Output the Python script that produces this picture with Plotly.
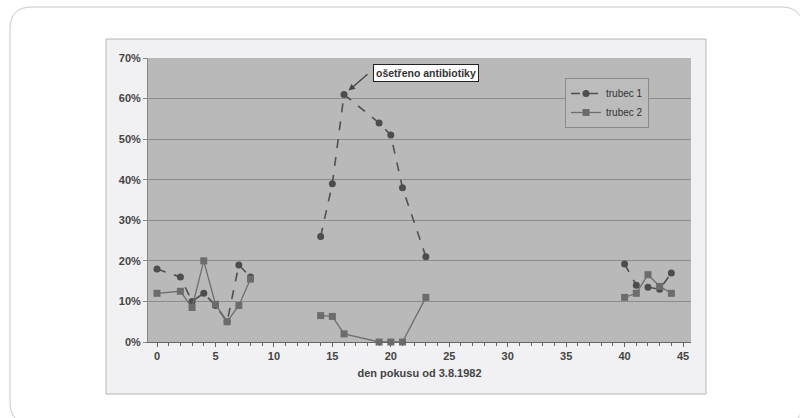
import plotly.graph_objects as go

# ---- data (fractions) ----
days = [0, 2, 3, 4, 5, 6, 7, 8, None, 14, 15, 16, 19, 20, 21, 23, None, 40, 41, 42, 43, 44]
trubec1 = [0.18, 0.16, 0.10, 0.12, 0.09, 0.05, 0.19, 0.16, None,
           0.26, 0.39, 0.61, 0.54, 0.51, 0.38, 0.21, None,
           0.192, 0.14, 0.135, 0.13, 0.17]
trubec2 = [0.12, 0.125, 0.085, 0.20, 0.093, 0.05, 0.09, 0.155, None,
           0.065, 0.063, 0.02, 0.0, 0.0, 0.0, 0.11, None,
           0.11, 0.12, 0.166, 0.137, 0.12]
series_names = ["trubec 1", "trubec 2"]
y_ticks = [0, 0.1, 0.2, 0.3, 0.4, 0.5, 0.6, 0.7]
x_ticks = [0, 5, 10, 15, 20, 25, 30, 35, 40, 45]
x_title = "den pokusu od 3.8.1982"
note_text = "ošetřeno antibiotiky"
note_day, note_val = 16, 0.61

W, H = 800, 418
L, R, T, B = 148, 691, 58, 342


def pp(px, py):
    return (px - L) / (R - L), (B - py) / (B - T)


FONT = "Liberation Sans, Arial, sans-serif"

fig = go.Figure()
fig.add_trace(go.Scatter(
    x=days, y=trubec1, name=series_names[0], mode="lines+markers",
    line=dict(color="#505050", width=1.6, dash="dash"),
    marker=dict(symbol="circle", size=7, color="#4d4d4d"),
    connectgaps=False, cliponaxis=False))
fig.add_trace(go.Scatter(
    x=days, y=trubec2, name=series_names[1], mode="lines+markers",
    line=dict(color="#6e6e6e", width=1.3),
    marker=dict(symbol="square", size=7, color="#6c6c6c"),
    connectgaps=False, cliponaxis=False))

shapes = []
# outer rounded frame
x0, y0 = pp(10, 7)
x1, y1 = pp(803, 424)
rx = 22 / (R - L)
ry = 22 / (B - T)
path = (f"M {x0} {y1 + ry} L {x0} {y0 - ry} Q {x0} {y0} {x0 + rx} {y0} "
        f"L {x1 - rx} {y0} Q {x1} {y0} {x1} {y0 - ry} L {x1} {y1 + ry} "
        f"Q {x1} {y1} {x1 - rx} {y1} L {x0 + rx} {y1} Q {x0} {y1} {x0} {y1 + ry} Z")
shapes.append(dict(type="path", xref="paper", yref="paper", path=path,
                   line=dict(color="#c8c8c8", width=1), fillcolor="rgba(0,0,0,0)",
                   layer="below"))
# chart box
cx0, cy0 = pp(106, 39)
cx1, cy1 = pp(706, 394)
shapes.append(dict(type="rect", xref="paper", yref="paper", x0=cx0, y0=cy1, x1=cx1, y1=cy0,
                   line=dict(color="#b5b5b8", width=1), fillcolor="#f1f1f3", layer="below"))
# plot area
shapes.append(dict(type="rect", xref="paper", yref="paper", x0=0, y0=0, x1=1, y1=1,
                   line=dict(width=0), fillcolor="#b9b9b9", layer="below"))

lx, ly = pp(565, 78)

fig.update_layout(
    width=W, height=H,
    margin=dict(l=L, r=W - R, t=T, b=H - B),
    paper_bgcolor="white", plot_bgcolor="rgba(0,0,0,0)",
    font=dict(family=FONT, color="#333333"),
    shapes=shapes,
    showlegend=True,
    legend=dict(x=lx, y=ly, xanchor="left", yanchor="top",
                bgcolor="#bcbcbc", bordercolor="#8a8a8a", borderwidth=1,
                font=dict(size=10, color="#333333"), tracegroupgap=0,
                itemwidth=30),
    xaxis=dict(range=[-0.77, 45.68], tickvals=x_ticks, showgrid=False, zeroline=False,
               showline=True, linecolor="#666666", linewidth=1,
               ticks="outside", ticklen=4, tickcolor="#666666",
               minor=dict(dtick=1, ticks="outside", ticklen=3, tickcolor="#666666", showgrid=False),
               tickfont=dict(size=11, weight="bold", color="#444444"),
               title=dict(text=x_title, standoff=8,
                          font=dict(size=11, weight="bold", color="#444444"))),
    yaxis=dict(range=[0, 0.7], tickvals=y_ticks, tickformat=".0%",
               showgrid=True, gridcolor="#8c8c8c", gridwidth=1, zeroline=False,
               showline=True, linecolor="#888888", linewidth=1,
               ticks="outside", ticklen=4, tickcolor="#888888",
               tickfont=dict(size=11, weight="bold", color="#444444")),
)

# annotation text box
tx = (425.5 - 157) / 11.69
ty = (B - 73) / (B - T) * 0.7
fig.add_annotation(x=tx, y=ty, xref="x", yref="y", text=note_text, showarrow=False,
                   bgcolor="white", bordercolor="#222222", borderwidth=1, borderpad=2,
                   font=dict(size=10.5, weight="bold", color="#333333"))
# arrow
fig.add_annotation(x=note_day, y=note_val, xref="x", yref="y", text="",
                   showarrow=True, axref="x", ayref="y",
                   ax=(369 - 157) / 11.69, ay=ty,
                   arrowhead=2, arrowsize=1, arrowwidth=1.3, arrowcolor="#444444",
                   standoff=6)

fig.write_html("out.html", config={"displayModeBar": False},
               post_script="document.body.style.margin='0';document.body.style.overflow='hidden';")
